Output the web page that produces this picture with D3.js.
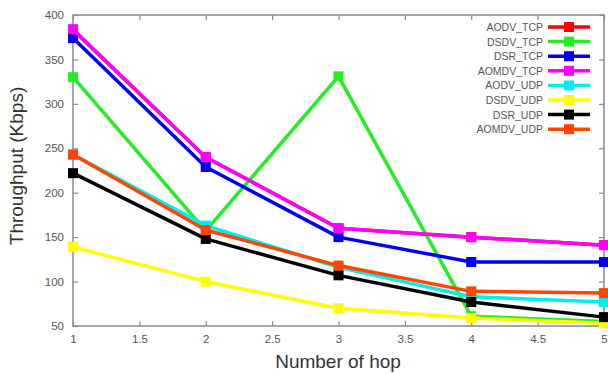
<!DOCTYPE html>
<html>
<head>
<meta charset="utf-8">
<script src="https://cdn.jsdelivr.net/npm/d3@7"></script>
<style>
  html, body { margin: 0; padding: 0; background: #fff; }
  svg { display: block; }
</style>
</head>
<body>
<svg id="chart" width="608" height="374"></svg>
<script>
// ---- Data ----
const hops = [1, 2, 3, 4, 5];
const seriesNames = ["AODV_TCP", "DSDV_TCP", "DSR_TCP", "AOMDV_TCP", "AODV_UDP", "DSDV_UDP", "DSR_UDP", "AOMDV_UDP"];
const seriesColors = ["#ff0000", "#22ee22", "#0000ee", "#ff00ff", "#00eeee", "#ffff00", "#000000", "#ff4500"];
const aodvTcp  = [383, 240, 160, 150, 141];
const dsdvTcp  = [330, 157, 331, 61, 55];
const dsrTcp   = [374, 229, 150, 122, 122];
const aomdvTcp = [384, 240, 160, 150, 141];
const aodvUdp  = [243, 163, 116, 83, 77];
const dsdvUdp  = [139, 100, 70, 59, 53];
const dsrUdp   = [222, 148, 107, 77, 60];
const aomdvUdp = [243, 158, 118, 89, 87];
const seriesValues = [aodvTcp, dsdvTcp, dsrTcp, aomdvTcp, aodvUdp, dsdvUdp, dsrUdp, aomdvUdp];
const xTicks = [1, 1.5, 2, 2.5, 3, 3.5, 4, 4.5, 5];
const yTicks = [50, 100, 150, 200, 250, 300, 350, 400];

// ---- Layout ----
const svg = d3.select("#chart");
const L = 73, R = 604, T = 15, B = 326;
const x = d3.scaleLinear().domain([1, 5]).range([L, R]);
const y = d3.scaleLinear().domain([50, 400]).range([B, T]);

const frameColor = "#8a8a8a";
const tickTextColor = "#555";
const font = "'Liberation Sans', Arial, sans-serif";

// frame
svg.append("rect").attr("x", L).attr("y", T).attr("width", R - L).attr("height", B - T)
  .attr("fill", "none").attr("stroke", frameColor).attr("stroke-width", 1.5);

// axes
const fmt = d => String(d);
const xAxis = svg.append("g").attr("transform", `translate(0,${B})`)
  .call(d3.axisBottom(x).tickValues(xTicks).tickSize(-5).tickPadding(9).tickFormat(fmt));
const xAxisTop = svg.append("g").attr("transform", `translate(0,${T})`)
  .call(d3.axisTop(x).tickValues(xTicks).tickSize(-5).tickFormat(""));
const yAxis = svg.append("g").attr("transform", `translate(${L},0)`)
  .call(d3.axisLeft(y).tickValues(yTicks).tickSize(-5).tickPadding(9).tickFormat(fmt));
const yAxisRight = svg.append("g").attr("transform", `translate(${R},0)`)
  .call(d3.axisRight(y).tickValues(yTicks).tickSize(-5).tickFormat(""));

[xAxis, xAxisTop, yAxis, yAxisRight].forEach(g => {
  g.select(".domain").remove();
  g.selectAll(".tick line").attr("stroke", frameColor).attr("stroke-width", 1.2);
  g.selectAll(".tick text").attr("fill", tickTextColor)
    .style("font-family", font).style("font-size", "11.5px");
});

// axis titles
svg.append("text").attr("x", 338).attr("y", 368).attr("text-anchor", "middle")
  .style("font-family", font).style("font-size", "19px")
  .attr("fill", "#333").text("Number of hop");
svg.append("text").attr("transform", "translate(23,166) rotate(-90)").attr("text-anchor", "middle")
  .style("font-family", font).style("font-size", "19px")
  .attr("fill", "#333").text("Throughput (Kbps)");

// series
const line = d3.line().x((d, i) => x(hops[i])).y(d => y(d));
const ms = 10;
seriesValues.forEach((vals, si) => {
  const g = svg.append("g");
  g.append("path").datum(vals).attr("d", line).attr("fill", "none")
    .attr("stroke", seriesColors[si]).attr("stroke-width", 3.5).attr("stroke-linejoin", "round");
  g.selectAll("rect").data(vals).enter().append("rect")
    .attr("x", (d, i) => x(hops[i]) - ms / 2).attr("y", d => y(d) - ms / 2)
    .attr("width", ms).attr("height", ms).attr("fill", seriesColors[si]);
});

// legend
const legY0 = 27, legStep = 14.6;
seriesNames.forEach((name, i) => {
  const yy = legY0 + i * legStep;
  svg.append("text").attr("x", 543).attr("y", yy + 4).attr("text-anchor", "end")
    .style("font-family", font).style("font-size", "10.5px")
    .attr("fill", "#555").text(name);
  svg.append("line").attr("x1", 548).attr("x2", 590).attr("y1", yy).attr("y2", yy)
    .attr("stroke", seriesColors[i]).attr("stroke-width", 3.5);
  svg.append("rect").attr("x", 569 - ms / 2).attr("y", yy - ms / 2).attr("width", ms).attr("height", ms)
    .attr("fill", seriesColors[i]);
});
</script>
</body>
</html>
